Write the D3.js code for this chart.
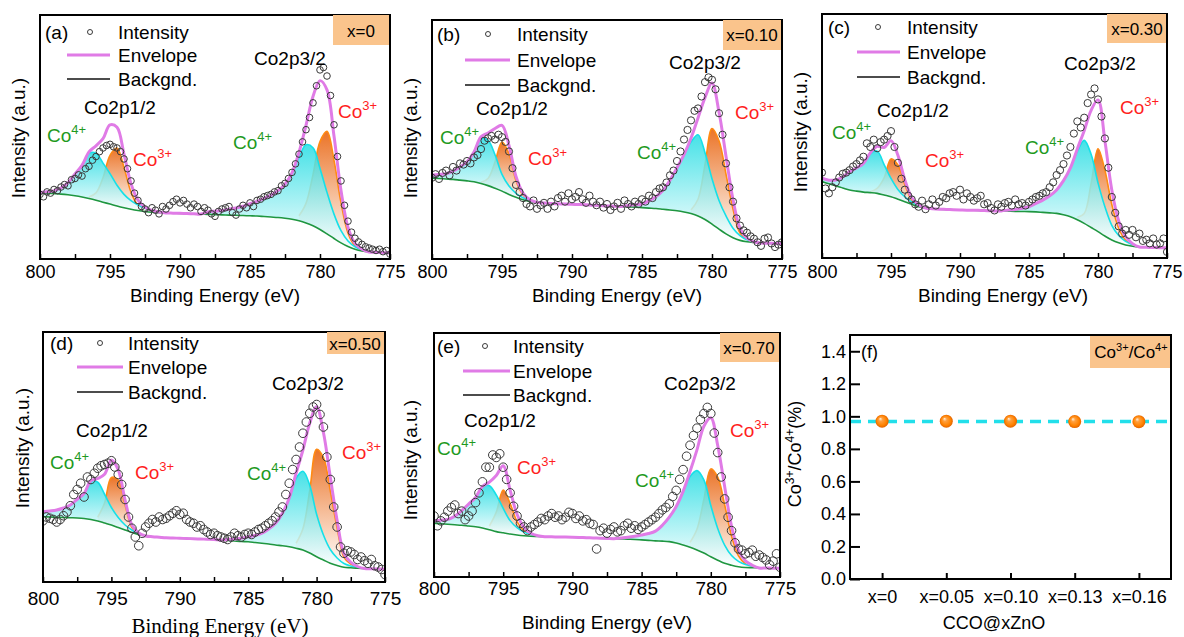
<!DOCTYPE html>
<html>
<head>
<meta charset="utf-8">
<script src="https://cdnjs.cloudflare.com/ajax/libs/d3/7.8.5/d3.min.js"></script>
<style>
	body { margin: 0; background: #fff; }
	svg { display: block; font-family: 'Liberation Sans', Arial, sans-serif; }
</style>
</head>
<body>
<svg id="chart" width="1184" height="637"></svg>
<script>
// Co 2p XPS fits for CCO@xZnO, five spectra + Co3+/Co4+ ratio panel

const FONT = "'Liberation Sans', Arial, sans-serif";
const GRID_STEP = 0.5; // eV, background / peak components
const POINT_STEP = 0.25; // eV, measured intensity
const E_START = 800;

const panelLabels = ['(a)', '(b)', '(c)', '(d)', '(e)'];
const sampleLabels = ['x=0', 'x=0.10', 'x=0.30', 'x=0.50', 'x=0.70'];
const majorTicks = [800, 795, 790, 785, 780, 775];
const minorTicks = [797.5, 792.5, 787.5, 782.5, 777.5];

// intensities in % of frame height; peaks are heights above background
// peak order: Co4+ 2p1/2, Co3+ 2p1/2, Co4+ 2p3/2, Co3+ 2p3/2
const backgroundA = [27, 27, 26.8, 26.6, 26.3, 25.9, 25.4, 24.8, 24.1, 23.3, 22.5, 21.7, 21, 20.4, 19.9, 19.5, 19.2, 19, 18.9, 18.8, 18.7, 18.6, 18.5, 18.4, 18.3, 18.2, 18.1, 18, 17.9, 17.8, 17.7, 17.6, 17.4, 17.2, 17, 16.7, 16.3, 15.7, 14.8, 13.6, 12.1, 10.3, 8.4, 6.6, 5.1, 4, 3.3, 2.9, 2.7, 2.6, 2.5];
const peakStartA = [800, 796.5, 788, 781.5];
const co4P12A = [0.3, 0.6, 1.2, 2.5, 5, 9, 13, 18.5, 19.3, 16, 12.5, 8.5, 5.5, 3.5, 2.2, 1.3, 0.7, 0.3];
const co3P12A = [0.6, 3, 10, 20, 23.8, 16.5, 7, 2, 0.4];
const co4P32A = [1, 1.4, 1.8, 2.4, 3, 3.8, 5, 6, 7.5, 9, 11, 14, 19, 26, 32, 32, 25, 17, 10, 5, 2.3, 1, 0.4];
const co3P32A = [2, 8, 21, 36, 42, 32, 16.5, 5.5, 1.4, 0.3];
const intensityA = [
	26.5, 25.5, 27.5, 27, 28.5, 28, 29.5, 30.5, 30, 32.5,
	33, 34.5, 34, 37, 38, 40.5, 42, 44, 45.5, 46.5,
	47, 46, 45.5, 44, 41, 37, 32, 27, 24, 21.5,
	20.5, 19, 21, 20, 18.5, 21.5, 20.5, 22, 23.5, 24.5,
	23, 24, 22.5, 21, 22.5, 21.5, 19.5, 21, 20, 18.5,
	17.5, 19.5, 20.5, 21, 21.5, 19, 18, 20.5, 22, 21,
	23, 21.5, 24, 24.5, 25.5, 26, 26.5, 27.5, 28, 30,
	31, 33, 35.5, 39, 43, 48, 53, 58, 64, 71,
	77.5, 78.5, 75, 67, 55, 42, 32, 22, 15.5, 11,
	8.5, 7, 6, 5, 4.5, 4, 3.5, 4, 3, 3.5,
	2];

const backgroundB = [33.8, 33.7, 33.5, 33.3, 33, 32.7, 32.3, 31.6, 30.7, 29.6, 28.4, 27, 25.8, 24.8, 24.1, 23.7, 23.4, 23.2, 23.1, 23, 22.9, 22.8, 22.7, 22.5, 22.4, 22.2, 22.1, 22, 21.8, 21.7, 21.5, 21.3, 21.1, 20.8, 20.5, 20.2, 19.7, 19, 18, 16.5, 14.6, 12.5, 10.5, 8.9, 7.8, 7.2, 6.9, 6.7, 6.6, 6.5, 6.4];
const peakStartB = [800, 796.5, 786, 781.5];
const co4P12B = [1.3, 1.7, 2.2, 3.5, 5.5, 8, 12.5, 19, 19, 14, 7, 3.5, 1.7, 0.8, 0.3];
const co3P12B = [0.5, 3, 11, 20.5, 17, 7, 2, 0.4];
const co4P32B = [0.6, 1, 1.5, 3, 5, 8, 12.5, 18, 24, 30, 34, 28, 19, 12, 7.5, 4, 2, 0.8, 0.3];
const co3P32B = [1.5, 7, 23, 40, 37, 25, 12, 3, 0.7];
const intensityB = [
	34, 35.5, 33.5, 36, 37, 35, 38.5, 37, 40, 39.5,
	41, 40, 42.5, 43.5, 46, 49.5, 50.5, 51.5, 50, 52,
	51, 49, 45, 38, 31, 28, 25.5, 23, 22, 24.5,
	21, 22.5, 23.5, 21, 24, 22, 25.5, 26.5, 24, 27.5,
	25, 26, 28, 25, 23.5, 26.5, 24, 22.5, 24, 21.5,
	23, 20.5, 22, 23.5, 21, 24.5, 23, 22, 24, 23,
	25, 24, 26.5, 25.5, 28, 29.5, 30, 32, 35, 37,
	41, 45, 50, 54, 58, 62, 63, 68, 74, 76,
	75, 71, 61, 52, 40, 30, 24, 17, 14, 12,
	11, 9.5, 8.5, 7, 5.5, 8.5, 9, 6.5, 5, 6,
	7];

const backgroundC = [31.3, 30.4, 29.5, 28.7, 27.9, 27.4, 27, 26.8, 26.5, 25.8, 25.1, 24.1, 23.1, 22, 21, 20.5, 20.2, 20, 19.9, 19.8, 19.7, 19.6, 19.6, 19.5, 19.4, 19.3, 19.3, 19.2, 19.1, 19.05, 19, 18.9, 18.7, 18.5, 18.3, 17.7, 16.9, 15.7, 14.2, 12.5, 10.8, 9, 7.4, 6.2, 5.3, 4.8, 4.5, 4.4, 4.3, 4.2, 4.2];
const peakStartC = [800, 796.5, 786.5, 781.5];
const co4P12C = [1.4, 1.5, 2.5, 4.5, 7.5, 9.5, 11.8, 16, 17.3, 12.5, 7.5, 4, 2, 1, 0.4];
const co3P12C = [0.3, 2, 7, 15.5, 14, 7, 1.8, 0.4];
const co4P32C = [0.5, 0.8, 1.3, 2, 3.5, 5, 7, 9.6, 14, 20, 28, 34, 30, 20, 12, 6, 3, 1.5, 0.6];
const co3P32C = [1, 4, 18, 34, 27, 14.5, 6, 2, 0.5];
const intensityC = [
	35, 28.5, 26.5, 29, 31, 33, 34.5, 35, 36, 37.5,
	38.5, 40, 41.5, 47, 45.5, 48.5, 45, 47.5, 48.5, 50,
	52, 45.5, 39, 32.5, 28, 25.5, 24, 22, 21, 23.5,
	20, 22, 24, 21.5, 23, 25, 24.5, 26.5, 27, 25.5,
	28, 24, 26.5, 25, 23.5, 24.5, 25.5, 22, 22.5, 20.5,
	19.5, 22, 21, 22.5, 23, 21.5, 24, 22, 22.5, 21.5,
	23, 24, 25, 25.5, 26.5, 27, 29, 31, 34, 36,
	38.5, 42, 45.5, 51, 56, 53.5, 57.5, 63.5, 67, 69.5,
	65, 58, 49, 37, 25, 18.5, 13, 10, 11.5, 9.5,
	11.5, 8.5, 10, 7, 7.5, 6, 8, 5.5, 6, 8,
	2.5];

const backgroundD = [26.1, 26, 25.9, 25.8, 25.7, 25.6, 25.4, 25, 24.4, 23.6, 22.8, 21.8, 20.8, 19.8, 18.9, 18.4, 18.1, 17.9, 17.7, 17.6, 17.5, 17.4, 17.3, 17.2, 17.1, 17, 16.8, 16.6, 16.4, 16.2, 16.1, 15.8, 15.5, 15.2, 14.8, 14.5, 14.1, 13.5, 12.8, 11.6, 10.1, 8.8, 7.5, 6.6, 5.9, 5.7, 5.5, 5.4, 5.3, 5.2, 5.1];
const peakStartD = [800, 796, 786.5, 781.5];
const co4P12D = [2, 2.4, 2.9, 3.8, 5.1, 7.5, 10, 15.5, 15.5, 11.5, 7, 4, 2, 1, 0.4];
const co3P12D = [1.5, 8, 19, 19, 10, 2, 0.3];
const co4P32D = [0.4, 0.8, 1.3, 2, 2.8, 4, 6, 8.7, 13, 19.5, 28, 31.5, 27, 17, 10, 5.5, 3, 1.5, 0.7, 0.3];
const co3P32D = [2, 8.5, 25, 43, 41, 29, 15, 4, 1.5, 0.4];
const intensityD = [
	24.5, 26, 25.5, 25, 24, 25, 26.5, 28, 30.5, 35,
	37, 39.5, 34, 42, 41, 43.5, 45.5, 46.5, 47, 47.5,
	48.5, 46, 43, 39, 33, 26, 21.5, 18, 14.5, 19.5,
	22, 23.5, 25, 24, 26, 25, 25.5, 26.5, 27.5, 28.5,
	27, 27.5, 25, 24, 23.5, 22, 22.5, 21, 20, 19,
	19.5, 18.5, 18, 17.5, 17, 18, 19.5, 18.5, 18, 19,
	19.5, 19, 20, 21, 21.5, 22.5, 23.5, 24.5, 26, 28,
	30, 35, 39.5, 45, 49, 54, 59.5, 64, 67.5, 70,
	71, 67, 62, 50, 41, 30, 22, 14, 11.5, 12.5,
	12, 11, 9, 10, 8.5, 7.5, 9, 6.5, 6, 5,
	3];

const backgroundE = [22, 21.8, 21.6, 21.4, 21.2, 20.9, 20.6, 20.1, 19.4, 18.6, 18.1, 17.6, 17.2, 16.9, 16.7, 16.6, 16.5, 16.45, 16.4, 16.35, 16.3, 16.2, 16.1, 16, 15.9, 15.8, 15.7, 15.6, 15.5, 15.4, 15.2, 15, 14.8, 14.7, 14.5, 13.9, 13.1, 12.2, 11.1, 9.8, 8.3, 6.9, 5.6, 4.8, 4.2, 3.9, 3.8, 3.7, 3.7, 3.6, 3.6];
const peakStartE = [800, 796, 786.5, 781.5];
const co4P12E = [1.2, 1.5, 2, 3.5, 6, 9, 12, 17, 18, 15, 10, 5.5, 3, 1.5, 0.7, 0.3];
const co3P12E = [1.5, 8, 17.5, 12.5, 5.5, 2, 0.5];
const co4P32E = [0.4, 0.8, 1.3, 2, 2.8, 4, 6.5, 10, 15, 22, 29, 32.5, 30, 21, 13, 7.5, 4, 2.2, 1.2, 0.6];
const co3P32E = [2, 8.5, 22, 36, 34, 24, 12, 4.5, 1.5, 0.4];
const intensityE = [
	25, 21, 23, 24.5, 27, 28.5, 29.5, 26, 27, 23.5,
	25, 27, 30.5, 34.5, 39, 45, 45, 50, 49, 50.5,
	45, 40, 34.5, 29, 25, 22, 20.5, 19, 20.5, 21.5,
	22.5, 24, 23.5, 25, 26, 24.5, 25, 23.5, 24.5, 26.5,
	26, 24, 25, 23, 23.5, 22, 21.5, 11.5, 19, 20,
	18, 19.5, 20.5, 18.5, 19, 21, 22, 20, 21, 19.5,
	20.5, 21.5, 22.5, 23.5, 24.5, 26, 27.5, 28.5, 30, 33,
	35.5, 40, 44, 49.5, 54, 58, 61, 64.5, 67, 69.5,
	67, 59, 51, 41, 32, 24.5, 19, 14, 11.5, 11,
	9.5, 10, 11, 8.5, 9, 8, 7, 5, 6.5, 9.5,
	4];

// panel (f)
const ratioLabels = ['x=0', 'x=0.05', 'x=0.10', 'x=0.13', 'x=0.16'];
const ratioValues = [0.97, 0.97, 0.97, 0.968, 0.967];
const ratioTicks = [0, 0.2, 0.4, 0.6, 0.8, 1.0, 1.2, 1.4];

// layout of the five spectra panels
const LAYOUT = [
	{ frame: [40, 15, 390, 259], r: 3.3, rows: [32, 55, 79], legX: 45, circleX: 90, lineX: [67, 110], textX: 118,
		box: [333, 15, 390, 45], boxText: [361, 31], ylab: [18, 138], xlab: [215, 295], tickPad: 6.7, tickFont: 18,
		p32: [290, 58], p12: [120, 107], c4a: [47, 135], c3a: [133, 159], c4b: [233, 142], c3b: [338, 111] },
	{ frame: [432, 20, 782, 259], r: 3.6, rows: [34, 60, 85], legX: 437, circleX: 488, lineX: [465, 510], textX: 517,
		box: [723, 20, 782, 50], boxText: [752, 35], ylab: [410, 138], xlab: [617, 295], tickPad: 6.2, tickFont: 18,
		p32: [705, 62], p12: [512, 108], c4a: [440, 137], c3a: [528, 158], c4b: [637, 152], c3b: [735, 112] },
	{ frame: [822, 14, 1167, 258], r: 3.6, rows: [27, 52, 77], legX: 828, circleX: 878, lineX: [857, 900], textX: 907,
		box: [1107, 14, 1167, 43], boxText: [1137, 29], ylab: [800, 132], xlab: [1003, 295], tickPad: 7.5, tickFont: 18,
		p32: [1100, 63], p12: [913, 110], c4a: [832, 132], c3a: [925, 160], c4b: [1025, 147], c3b: [1120, 107] },
	{ frame: [43, 332, 385, 582], r: 4.3, rows: [343, 367, 392], legX: 50, circleX: 100, lineX: [77, 123], textX: 128,
		box: [327, 332, 385, 354], boxText: [355, 344], ylab: [22, 448], xlab: [220, 626], serif: true, tickPad: 9.3, tickFont: 19,
		p32: [308, 383], p12: [112, 430], c4a: [50, 462], c3a: [135, 472], c4b: [247, 473], c3b: [342, 452] },
	{ frame: [434, 333, 780, 577], r: 4.3, rows: [346, 371, 395], legX: 437, circleX: 485, lineX: [463, 510], textX: 513,
		box: [720, 333, 780, 362], boxText: [749, 348], ylab: [410, 460], xlab: [607, 622], tickPad: 4.3, tickFont: 19,
		p32: [700, 383], p12: [500, 420], c4a: [437, 448], c3a: [517, 467], c4b: [635, 480], c3b: [730, 430] }
];

const spectra = [
	{ bg: backgroundA, starts: peakStartA, peaks: [co4P12A, co3P12A, co4P32A, co3P32A], points: intensityA },
	{ bg: backgroundB, starts: peakStartB, peaks: [co4P12B, co3P12B, co4P32B, co3P32B], points: intensityB },
	{ bg: backgroundC, starts: peakStartC, peaks: [co4P12C, co3P12C, co4P32C, co3P32C], points: intensityC },
	{ bg: backgroundD, starts: peakStartD, peaks: [co4P12D, co3P12D, co4P32D, co3P32D], points: intensityD },
	{ bg: backgroundE, starts: peakStartE, peaks: [co4P12E, co3P12E, co4P32E, co3P32E], points: intensityE }
];

const COLORS = {
	envelope: '#e07be6',
	background: '#1f9640',
	cyan: '#16e0e8',
	orange: '#ff8a14',
	box: '#fac48c',
	green: '#1f9a1f',
	red: '#ff1f1f',
	point: '#3a3a3a'
};

const svg = d3.select('#chart');
const defs = svg.append('defs');

// vertical fades used for the peak areas
function addFade(id, color) {
	let grad = defs.append('linearGradient').attr('id', id).attr('x1', 0).attr('y1', 0).attr('x2', 0).attr('y2', 1);
	grad.append('stop').attr('offset', '0%').attr('stop-color', color);
	grad.append('stop').attr('offset', '100%').attr('stop-color', '#ffffff');
}
addFade('cyanFade', '#28dde3');
addFade('orangeFade', '#eb7428');

// shaded sphere for the ratio points
let ball = defs.append('radialGradient').attr('id', 'ball').attr('cx', '50%').attr('cy', '50%').attr('r', '50%').attr('fx', '35%').attr('fy', '30%');
ball.append('stop').attr('offset', '0%').attr('stop-color', '#fff3e0');
ball.append('stop').attr('offset', '30%').attr('stop-color', '#ffa040');
ball.append('stop').attr('offset', '75%').attr('stop-color', '#ff8200');
ball.append('stop').attr('offset', '100%').attr('stop-color', '#e26400');

function ionLabel(g, x, cy, charge, color) {
	let t = g.append('text').attr('x', x).attr('y', cy + 7).attr('fill', color).attr('font-size', 19);
	t.append('tspan').text('Co');
	t.append('tspan').attr('font-size', 13).attr('dy', -8).text(charge);
}

function drawSpectrum(p, L, idx) {
	const [x0, y0, x1, y1] = L.frame;
	const x = d3.scaleLinear([800, 775], [x0, x1]);
	const y = d3.scaleLinear([0, 100], [y1, y0]);
	const g = svg.append('g').attr('class', 'spectrum');

	const clipId = 'clip' + idx;
	defs.append('clipPath').attr('id', clipId)
		.append('rect').attr('x', x0).attr('y', y0).attr('width', x1 - x0).attr('height', y1 - y0);
	const plot = g.append('g').attr('clip-path', 'url(#' + clipId + ')');

	const bgAt = (e) => p.bg[Math.round((E_START - e) / GRID_STEP)];

	// each component sits on the background
	const comps = p.peaks.map((vals, k) =>
		vals.map((v, j) => {
			const e = p.starts[k] - j * GRID_STEP;
			return { e: e, base: bgAt(e), top: bgAt(e) + v };
		})
	);

	// envelope = background + all components
	const envelope = p.bg.map((b, i) => {
		const e = E_START - i * GRID_STEP;
		let s = b;
		p.peaks.forEach((vals, k) => {
			const j = Math.round((p.starts[k] - e) / GRID_STEP);
			if (j >= 0 && j < vals.length) s += vals[j];
		});
		return { e: e, v: s };
	});

	const curve = d3.curveCatmullRom.alpha(0.5);
	const area = d3.area().x((d) => x(d.e)).y0((d) => y(d.base)).y1((d) => y(d.top)).curve(curve);
	const topLine = d3.line().x((d) => x(d.e)).y((d) => y(d.top)).curve(curve);

	// Co3+ first, Co4+ drawn over it
	[1, 3].forEach((k) => {
		plot.append('path').datum(comps[k]).attr('d', area).attr('fill', 'url(#orangeFade)');
		plot.append('path').datum(comps[k]).attr('d', topLine).attr('fill', 'none')
			.attr('stroke', COLORS.orange).attr('stroke-width', 1.6);
	});
	[0, 2].forEach((k) => {
		plot.append('path').datum(comps[k]).attr('d', area).attr('fill', 'url(#cyanFade)').attr('opacity', 0.86);
		plot.append('path').datum(comps[k]).attr('d', topLine).attr('fill', 'none')
			.attr('stroke', COLORS.cyan).attr('stroke-width', 1.6);
	});

	// background
	plot.append('path')
		.datum(p.bg.map((b, i) => ({ e: E_START - i * GRID_STEP, top: b })))
		.attr('d', topLine)
		.attr('fill', 'none')
		.attr('stroke', COLORS.background)
		.attr('stroke-width', 1.6);

	// envelope
	plot.append('path')
		.datum(envelope)
		.attr('d', d3.line().x((d) => x(d.e)).y((d) => y(d.v)).curve(curve))
		.attr('fill', 'none')
		.attr('stroke', COLORS.envelope)
		.attr('stroke-width', 3);

	// measured points, on top of the fit
	plot.append('g')
		.selectAll('circle')
		.data(p.points)
		.enter()
		.append('circle')
		.attr('cx', (d, i) => x(E_START - i * POINT_STEP))
		.attr('cy', (d) => y(d))
		.attr('r', L.r)
		.attr('fill', 'none')
		.attr('stroke', COLORS.point)
		.attr('stroke-width', 1);

	// x axis, ticks pointing inwards
	const axisG = g.append('g').attr('transform', 'translate(0,' + y1 + ')');
	axisG.call(d3.axisBottom(x).tickValues(majorTicks).tickSize(-5).tickPadding(L.tickPad).tickFormat(d3.format('d')));
	axisG.append('g').call(d3.axisBottom(x).tickValues(minorTicks).tickSize(-5).tickFormat(''));
	axisG.selectAll('.domain').remove();
	axisG.attr('font-size', L.tickFont).attr('font-family', FONT);
	axisG.selectAll('line').attr('stroke', '#000').attr('stroke-width', 1.5);
	axisG.selectAll('text').attr('fill', '#000');

	// frame
	g.append('rect')
		.attr('x', x0).attr('y', y0).attr('width', x1 - x0).attr('height', y1 - y0)
		.attr('fill', 'none').attr('stroke', '#000').attr('stroke-width', 2);

	// sample box in the corner
	const [bx0, by0, bx1, by1] = L.box;
	g.append('rect').attr('x', bx0).attr('y', by0).attr('width', bx1 - bx0 - 1).attr('height', by1 - by0)
		.attr('fill', COLORS.box);
	g.append('text').attr('x', L.boxText[0]).attr('y', L.boxText[1]).attr('dy', '0.35em')
		.attr('text-anchor', 'middle').attr('font-size', 17).text(sampleLabels[idx]);

	// legend
	const lg = g.append('g').attr('font-size', 19);
	lg.append('text').attr('x', L.legX).attr('y', L.rows[0] + 7).text(panelLabels[idx]);
	lg.append('circle').attr('cx', L.circleX).attr('cy', L.rows[0]).attr('r', 2.5)
		.attr('fill', 'none').attr('stroke', COLORS.point).attr('stroke-width', 1);
	lg.append('text').attr('x', L.textX).attr('y', L.rows[0] + 7).text('Intensity');
	lg.append('line').attr('x1', L.lineX[0]).attr('x2', L.lineX[1]).attr('y1', L.rows[1]).attr('y2', L.rows[1])
		.attr('stroke', COLORS.envelope).attr('stroke-width', 3);
	lg.append('text').attr('x', L.textX).attr('y', L.rows[1] + 7).text('Envelope');
	lg.append('line').attr('x1', L.lineX[0]).attr('x2', L.lineX[1]).attr('y1', L.rows[2]).attr('y2', L.rows[2])
		.attr('stroke', '#111').attr('stroke-width', 1.5);
	lg.append('text').attr('x', L.textX).attr('y', L.rows[2] + 7).text('Backgnd.');

	// peak annotations
	g.append('text').attr('x', L.p32[0]).attr('y', L.p32[1]).attr('dy', '0.35em').attr('text-anchor', 'middle')
		.attr('font-size', 19).text('Co2p3/2');
	g.append('text').attr('x', L.p12[0]).attr('y', L.p12[1]).attr('dy', '0.35em').attr('text-anchor', 'middle')
		.attr('font-size', 19).text('Co2p1/2');
	ionLabel(g, L.c4a[0], L.c4a[1], '4+', COLORS.green);
	ionLabel(g, L.c3a[0], L.c3a[1], '3+', COLORS.red);
	ionLabel(g, L.c4b[0], L.c4b[1], '4+', COLORS.green);
	ionLabel(g, L.c3b[0], L.c3b[1], '3+', COLORS.red);

	// axis titles
	g.append('text')
		.attr('transform', 'translate(' + L.ylab[0] + ',' + L.ylab[1] + ') rotate(-90)')
		.attr('dy', '0.35em').attr('text-anchor', 'middle').attr('font-size', 19)
		.text('Intensity (a.u.)');
	g.append('text')
		.attr('x', L.xlab[0]).attr('y', L.xlab[1]).attr('dy', '0.35em').attr('text-anchor', 'middle')
		.attr('font-size', L.serif ? 21 : 19)
		.attr('font-family', L.serif ? "'Liberation Serif', 'Times New Roman', serif" : FONT)
		.text('Binding Energy (eV)');
}

spectra.forEach((p, i) => drawSpectrum(p, LAYOUT[i], i));

// panel (f): Co3+/Co4+ ratio
function drawRatio() {
	const [x0, y0, x1, y1] = [850, 335, 1171, 579];
	const x = d3.scalePoint(ratioLabels, [x0, x1]).padding(0.5);
	const y = d3.scaleLinear([0, 1.5], [y1, y0]);
	const g = svg.append('g').attr('class', 'ratio');

	const meanVal = d3.mean(ratioValues);
	g.append('line')
		.attr('x1', x0).attr('x2', x1).attr('y1', y(meanVal)).attr('y2', y(meanVal))
		.attr('stroke', '#22dfea').attr('stroke-width', 3.5).attr('stroke-dasharray', '11 7');

	g.selectAll('circle.pt')
		.data(ratioValues)
		.enter()
		.append('circle')
		.attr('class', 'pt')
		.attr('cx', (d, i) => x(ratioLabels[i]))
		.attr('cy', (d) => y(d))
		.attr('r', 6.5)
		.attr('fill', 'url(#ball)');

	const yAxis = g.append('g').attr('transform', 'translate(' + x0 + ',0)')
		.call(d3.axisLeft(y).tickValues(ratioTicks).tickSize(-10).tickPadding(4).tickFormat(d3.format('.1f')));
	const xAxis = g.append('g').attr('transform', 'translate(0,' + y1 + ')')
		.call(d3.axisBottom(x).tickSize(-6).tickPadding(11.7));
	[yAxis, xAxis].forEach((a) => {
		a.select('.domain').remove();
		a.attr('font-size', 18).attr('font-family', FONT);
		a.selectAll('line').attr('stroke', '#000').attr('stroke-width', 2);
		a.selectAll('text').attr('fill', '#000');
	});

	g.append('rect')
		.attr('x', x0).attr('y', y0).attr('width', x1 - x0).attr('height', y1 - y0)
		.attr('fill', 'none').attr('stroke', '#000').attr('stroke-width', 2);

	g.append('text').attr('x', 861).attr('y', y(1.4)).attr('dy', '0.35em').attr('font-size', 18).text('(f)');

	// corner box
	g.append('rect').attr('x', 1090).attr('y', y0 + 1).attr('width', 80).attr('height', 32).attr('fill', COLORS.box);
	let bt = g.append('text').attr('x', 1131).attr('y', 358).attr('text-anchor', 'middle').attr('font-size', 17);
	bt.append('tspan').text('Co');
	bt.append('tspan').attr('font-size', 11).attr('dy', -7).text('3+');
	bt.append('tspan').attr('dy', 7).text('/Co');
	bt.append('tspan').attr('font-size', 11).attr('dy', -7).text('4+');

	// axis titles
	let yt = g.append('text')
		.attr('transform', 'translate(795,454) rotate(-90)')
		.attr('dy', '0.35em').attr('text-anchor', 'middle').attr('font-size', 18);
	yt.append('tspan').text('Co');
	yt.append('tspan').attr('font-size', 12).attr('dy', -7).text('3+');
	yt.append('tspan').attr('dy', 7).text('/Co');
	yt.append('tspan').attr('font-size', 12).attr('dy', -7).text('4+');
	yt.append('tspan').attr('dy', 7).text('(%)');

	g.append('text').attr('x', 994).attr('y', 623).attr('dy', '0.35em').attr('text-anchor', 'middle')
		.attr('font-size', 18).text('CCO@xZnO');
}

drawRatio();
</script>
</body>
</html>
